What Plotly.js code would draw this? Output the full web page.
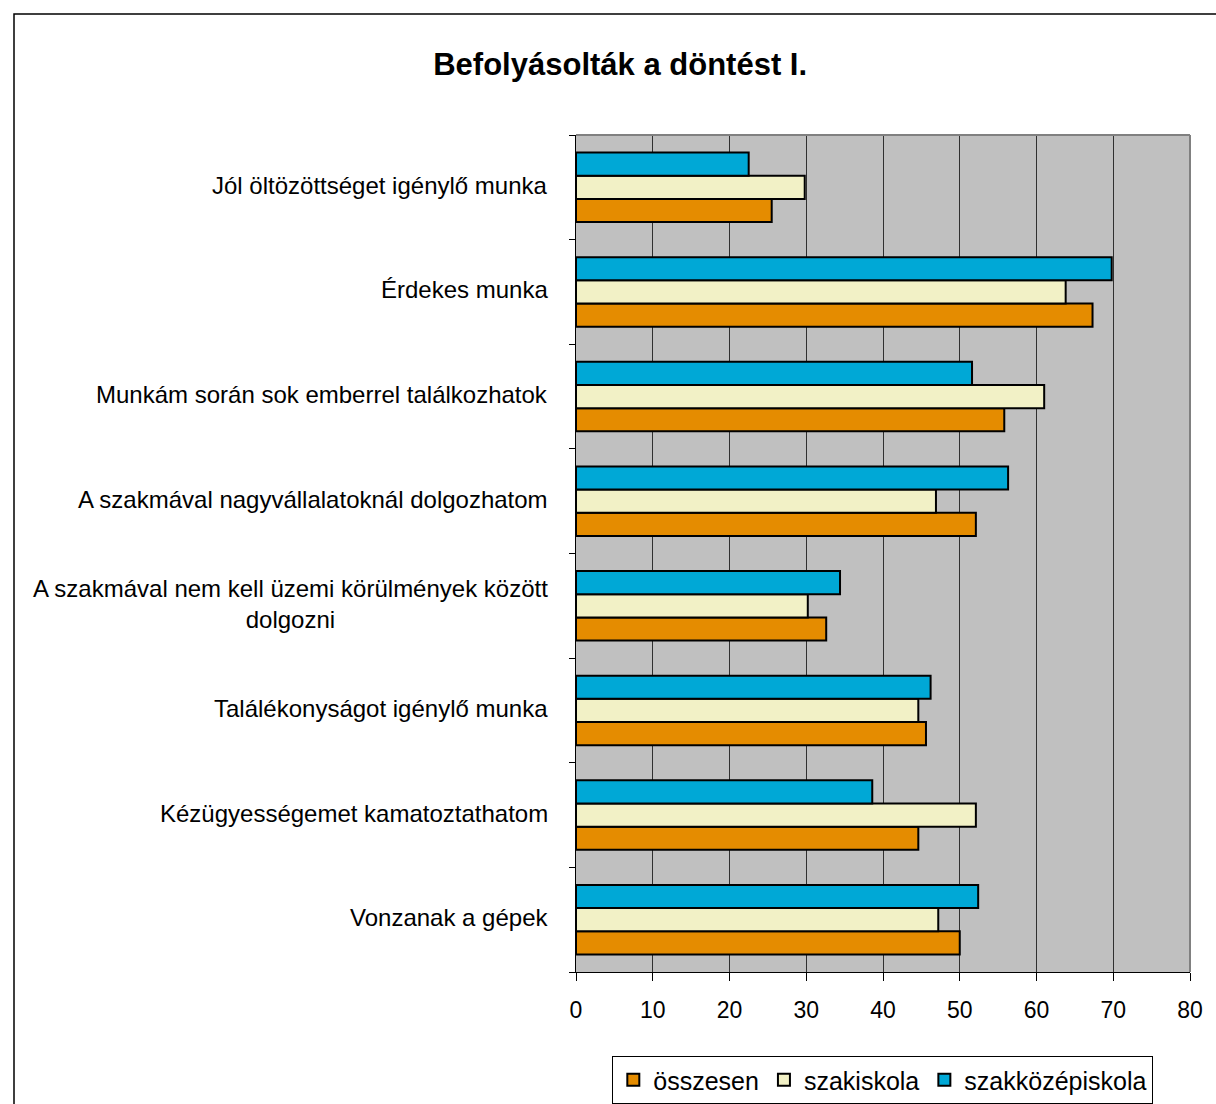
<!DOCTYPE html>
<html>
<head>
<meta charset="utf-8">
<script src="https://cdn.plot.ly/plotly-3.0.1.min.js"></script>
<style>
  html, body { margin: 0; padding: 0; background: #fff; overflow: hidden; }
  #chart { width: 1216px; height: 1104px; }
</style>
</head>
<body>
<div id="chart"></div>
<script>
// Categories, top to bottom as in the chart
const categories = [
  "Jól öltözöttséget igénylő munka",
  "Érdekes munka",
  "Munkám során sok emberrel találkozhatok",
  "A szakmával nagyvállalatoknál dolgozhatom",
  "A szakmával nem kell üzemi körülmények között<br>dolgozni",
  "Találékonyságot igénylő munka",
  "Kézügyességemet kamatoztathatom",
  "Vonzanak a gépek"
];
const seriesNames = ["összesen", "szakiskola", "szakközépiskola"];
const osszesen        = [25.5, 67.3, 55.8, 52.1, 32.6, 45.6, 44.6, 50.0];
const szakiskola      = [29.8, 63.8, 61.0, 46.9, 30.2, 44.6, 52.1, 47.2];
const szakkozepiskola = [22.5, 69.8, 51.6, 56.3, 34.4, 46.2, 38.6, 52.4];
const xTicks = [0, 10, 20, 30, 40, 50, 60, 70, 80];

const colors = ["#e58c00", "#f2f1c6", "#00a8d6"];
const values = [osszesen, szakiskola, szakkozepiskola];

const traces = values.map((v, i) => ({
  type: "bar",
  orientation: "h",
  name: seriesNames[i],
  y: categories,
  x: v,
  marker: { color: colors[i], line: { color: "#000", width: 2 } },
  hoverinfo: "x+y"
}));

const FONT = "Liberation Sans, Arial, sans-serif";

const annotations = categories.map(c => ({
  xref: "paper", yref: "y",
  x: -0.042, y: c,
  xanchor: "right", yanchor: "middle",
  yshift: 2,
  align: "center",
  text: c,
  showarrow: false,
  font: { family: FONT, size: 24, color: "#000" }
}));

const layout = {
  width: 1216, height: 1104,
  margin: { l: 576, r: 26, t: 135, b: 132 },
  paper_bgcolor: "#fff",
  plot_bgcolor: "#c0c0c0",
  barmode: "group",
  bargap: 0.335,
  bargroupgap: 0,
  title: {
    text: "<b>Befolyásolták a döntést I.</b>",
    font: { family: FONT, size: 31, color: "#000" },
    xref: "container", yref: "container",
    x: 0.51, xanchor: "center",
    y: 0.942, yanchor: "middle"
  },
  xaxis: {
    range: [0, 80],
    tickvals: xTicks,
    ticktext: xTicks.map(String),
    showgrid: true, gridcolor: "#303030", gridwidth: 1,
    zeroline: false,
    showline: true, linecolor: "#000", linewidth: 1,
    ticks: "outside", ticklen: 8, tickcolor: "#000",
    tickfont: { family: FONT, size: 23, color: "#000" },
    ticklabelstandoff: 9,
    automargin: false,
    fixedrange: true
  },
  yaxis: {
    type: "category",
    categoryorder: "array",
    categoryarray: categories.slice().reverse(),
    showgrid: false, zeroline: false,
    showline: true, linecolor: "#000", linewidth: 1,
    ticks: "outside", ticklen: 6, tickcolor: "#000",
    tickson: "boundaries",
    showticklabels: false,
    automargin: false,
    fixedrange: true
  },
  legend: {
    orientation: "h",
    traceorder: "normal",
    xref: "container", yref: "container",
    x: 0.726, xanchor: "center",
    y: 1 - 1056 / 1104, yanchor: "top",
    bgcolor: "#fff",
    bordercolor: "#000", borderwidth: 1,
    font: { family: FONT, size: 25, color: "#000" },
    itemwidth: 30,
    tracegroupgap: 0
  },
  annotations: annotations,
  shapes: [
    // outer chart border
    { type: "rect", xref: "paper", yref: "paper",
      x0: (14 - 576) / 614, x1: (1230 - 576) / 614,
      y0: (972 - 1120) / 837, y1: (972 - 14) / 837,
      line: { color: "#000", width: 1.5 }, fillcolor: "rgba(0,0,0,0)", layer: "above" },
    // plot frame top & right (gray)
    { type: "line", xref: "paper", yref: "paper", x0: 0, x1: 1, y0: 1, y1: 1,
      line: { color: "#808080", width: 2 }, layer: "above" },
    { type: "line", xref: "paper", yref: "paper", x0: 1, x1: 1, y0: 0, y1: 1,
      line: { color: "#808080", width: 2 }, layer: "above" }
  ],
  showlegend: true
};

Plotly.newPlot("chart", traces, layout, { displayModeBar: false, staticPlot: true });
</script>
</body>
</html>
